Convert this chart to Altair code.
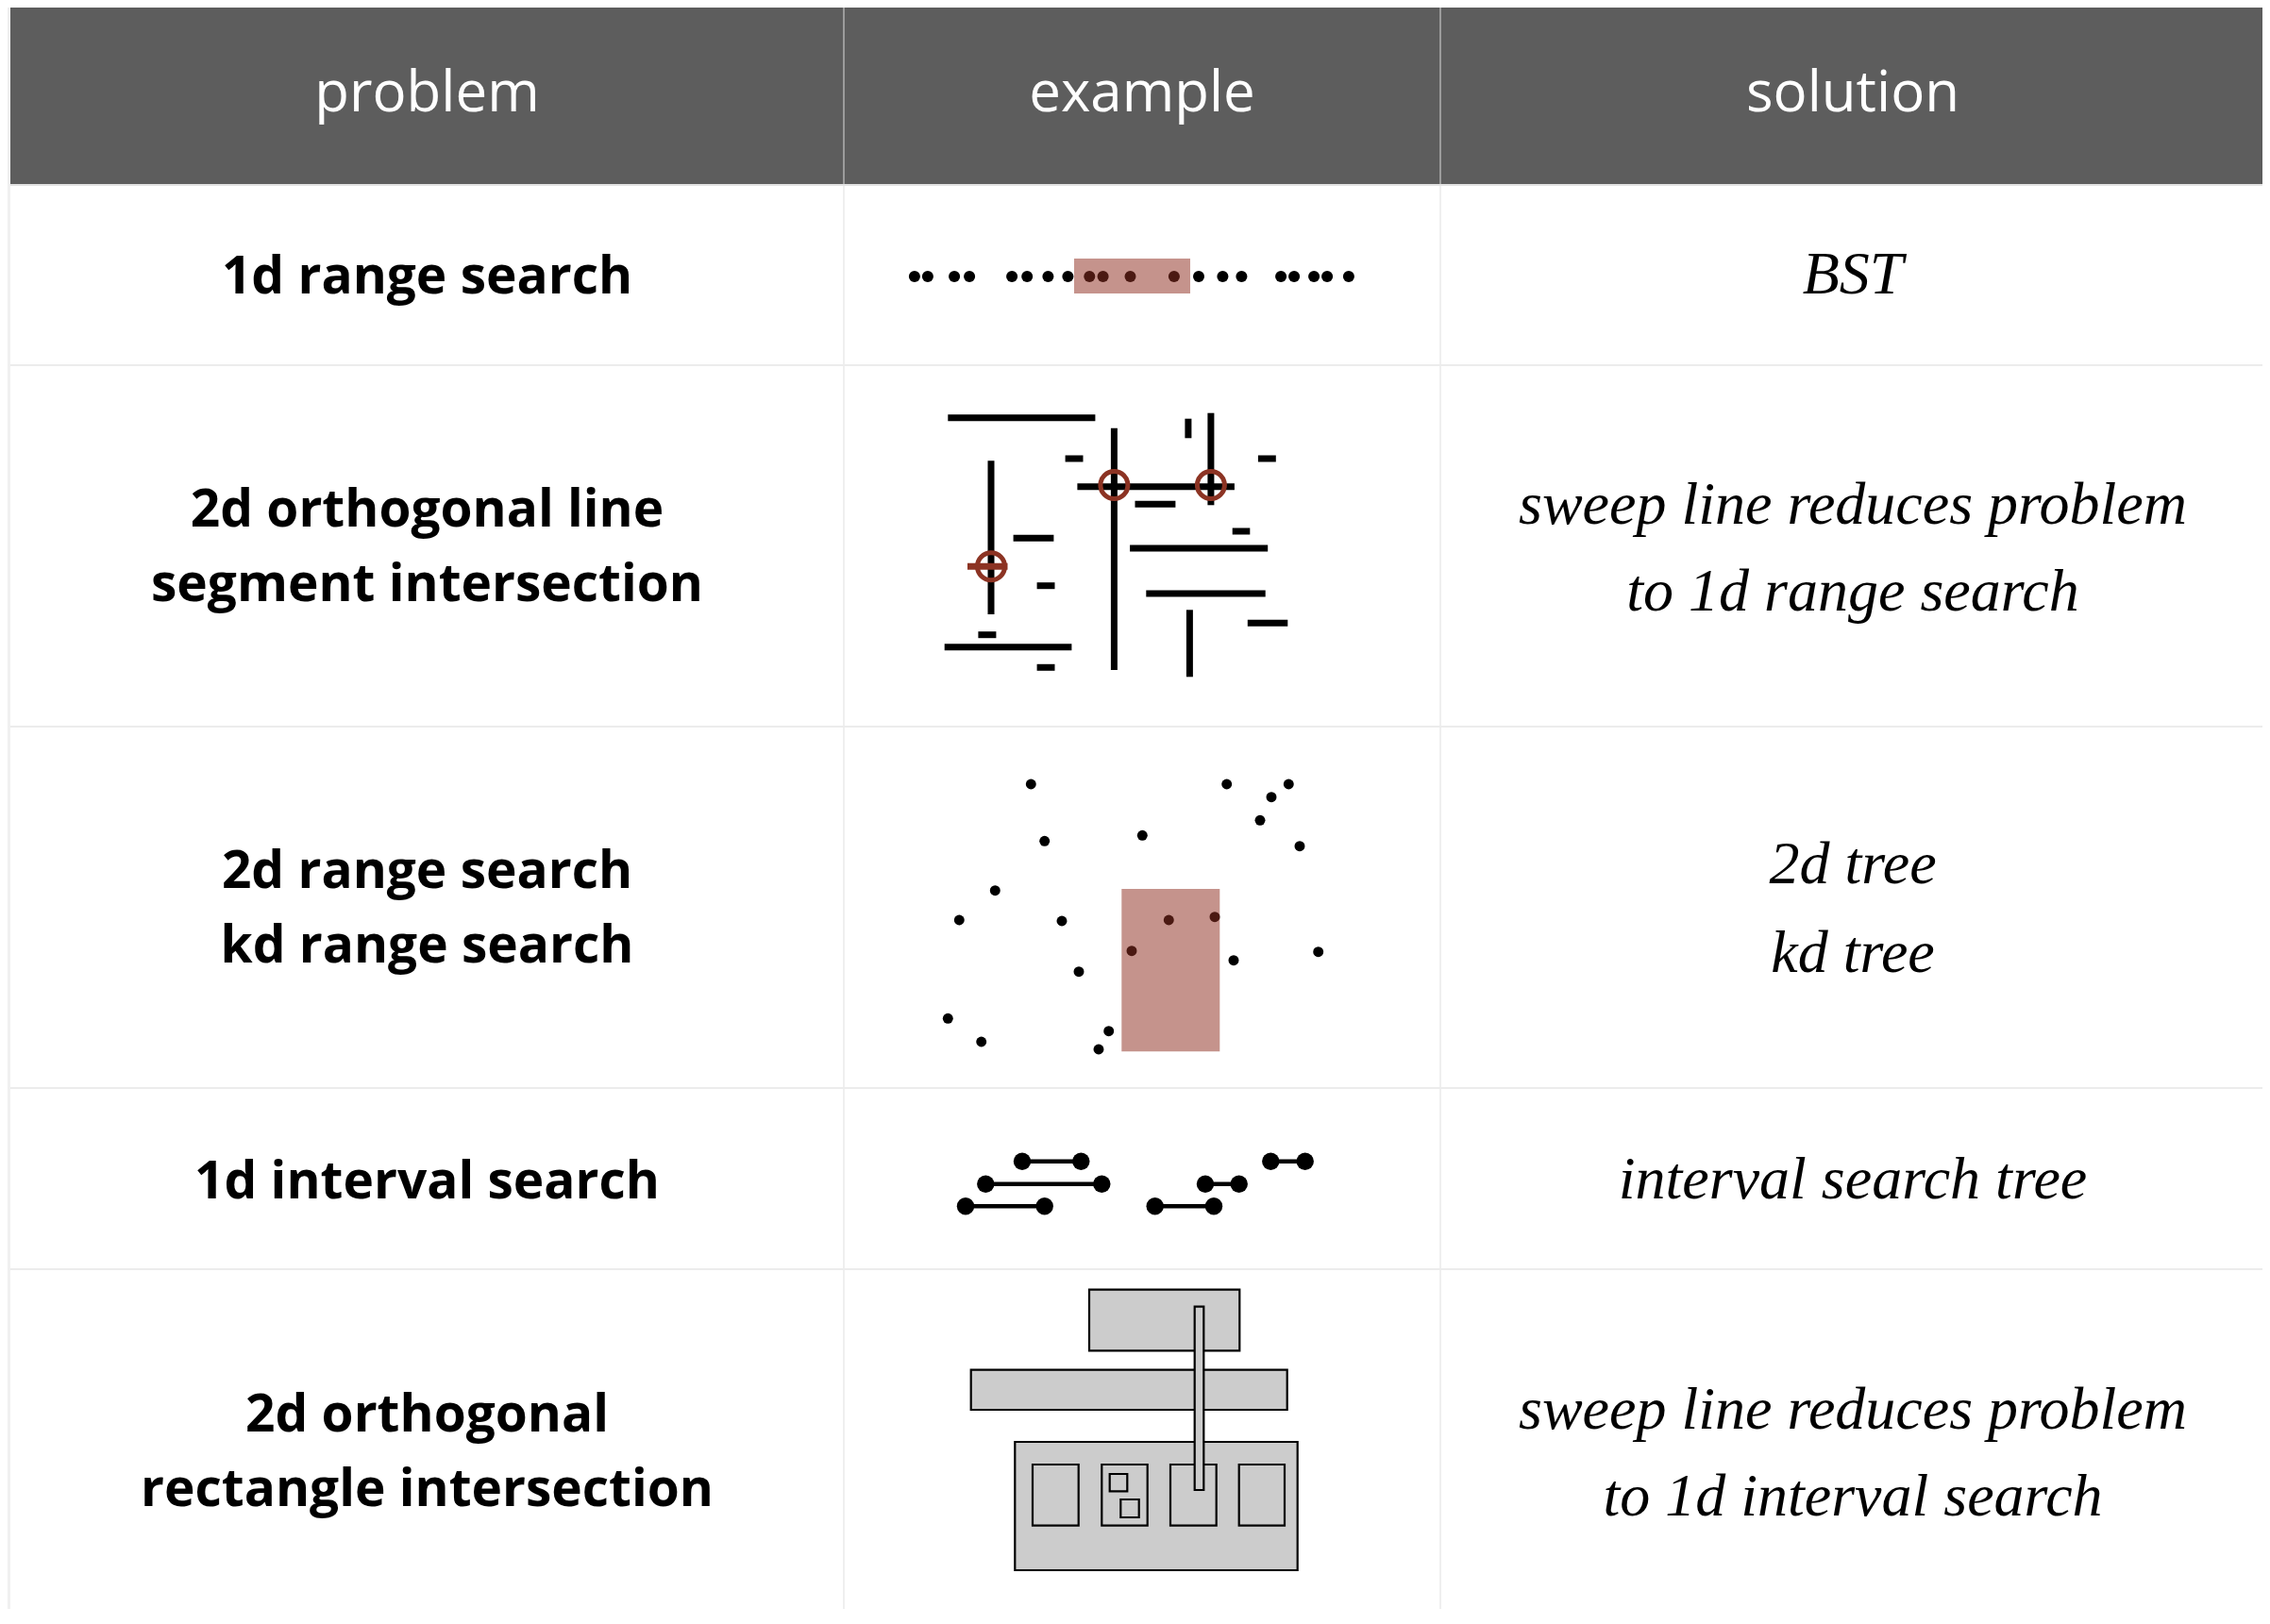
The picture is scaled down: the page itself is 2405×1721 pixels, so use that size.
import altair as alt
import pandas as pd

# ---------------- table layout (image pixel coordinates) ----------------
col_edges = [11, 894, 1526, 2400]          # left, divider1, divider2, right
row_edges = [8, 196, 387, 770, 1153, 1345, 1721]
header_labels = ["problem", "example", "solution"]

problem_lines = [
    ["1d range search"],
    ["2d orthogonal line", "segment intersection"],
    ["2d range search", "kd range search"],
    ["1d interval search"],
    ["2d orthogonal", "rectangle intersection"],
]
problem_baselines = [[311], [558, 637], [941, 1020], [1270], [1517, 1596]]

solution_lines = [
    ["BST"],
    ["sweep line reduces problem", "to 1d range search"],
    ["2d tree", "kd tree"],
    ["interval search tree"],
    ["sweep line reduces problem", "to 1d interval search"],
]
solution_baselines = [[311], [555, 647], [936, 1030], [1270], [1514, 1606]]

# ---------------- row 1: 1d range search ----------------
r1_x = [968.9, 982.9, 1011.1, 1027.1, 1072.1, 1088.2, 1110.4, 1131.4, 1154.3, 1168.6,
        1197.5, 1243.9, 1270.0, 1295.4, 1315.4, 1357.1, 1371.1, 1392.1, 1406.1, 1428.9]
r1_y = [293] * len(r1_x)
r1_range = [1138, 1261, 274, 311]  # x1, x2, y1, y2

# ---------------- row 2: orthogonal segments ----------------
h_x1 = [1004.3, 1128.6, 1332.9, 1141.4, 1202.5, 1305.7, 1073.6, 1197.1, 1098.6, 1214.3, 1321.8, 1036.4, 1000.7, 1098.6]
h_x2 = [1160.4, 1147.5, 1351.8, 1307.9, 1245.4, 1324.3, 1116.4, 1343.2, 1117.5, 1340.7, 1364.3, 1055.4, 1135.4, 1117.5]
h_y = [442.7, 486, 486, 515.7, 534.3, 563, 570.3, 581, 620.7, 629, 660.3, 672.7, 685.7, 707.3]
v_x = [1050, 1180.4, 1258.9, 1282.9, 1260.4]
v_y1 = [488.3, 453.7, 443.7, 437.7, 646.3]
v_y2 = [651, 710, 464.3, 535.3, 717.3]
red_seg = [1025, 1067.5, 600.3]
hit_x = [1180.4, 1282.9, 1050]
hit_y = [514, 514, 600.3]

# ---------------- row 3: 2d points ----------------
r3_x = [1092.3, 1299.7, 1365.3, 1347, 1335, 1106.7, 1210.3, 1377, 1054.3, 1016.3, 1125,
        1238.3, 1287, 1199, 1307, 1396.7, 1143, 1004.3, 1039.7, 1174.7, 1164]
r3_y = [831, 831, 831, 844.7, 869.3, 891.3, 885.3, 896.7, 943.7, 975, 976,
        975, 971.7, 1007.7, 1017.7, 1008.7, 1029.7, 1079.3, 1104, 1092.7, 1112]
r3_range = [1188.3, 1292.3, 942, 1114.3]

# ---------------- row 4: intervals ----------------
iv_x1 = [1083, 1044.3, 1023, 1346.3, 1277, 1223.7]
iv_x2 = [1145.3, 1167.3, 1106.7, 1382.7, 1312.7, 1286]
iv_y = [1230.7, 1254.7, 1278.3, 1230.7, 1254.7, 1278.3]

# ---------------- row 5: rectangles ----------------
rc_x1 = [1154, 1028.7, 1075.3, 1094, 1167.3, 1175.7, 1187.3, 1240, 1312.7, 1265.7]
rc_x2 = [1313.3, 1363.7, 1374.7, 1142.7, 1215.7, 1194.3, 1206.7, 1288.7, 1361, 1275.3]
rc_y1 = [1366.7, 1451.7, 1528, 1552, 1552, 1562, 1589, 1552, 1552, 1384.7]
rc_y2 = [1431.3, 1494, 1664, 1616.7, 1616.7, 1580.3, 1608, 1616.7, 1616.7, 1579]

# ---------------- colours ----------------
HEADER = "#5d5d5d"
HILITE = "#8f2f22"
RED = "#8c3323"

# ---------------- scales ----------------
W, H = 2389, 1697
xs = alt.Scale(domain=[8, 8 + W], range=[0, W], nice=False, zero=False)
ys = alt.Scale(domain=[8 + H, 8], nice=False, zero=False)


def X(f):
    return alt.X(f, type="quantitative", scale=xs, axis=None)


def Y(f):
    return alt.Y(f, type="quantitative", scale=ys, axis=None)


def rects(df, **kw):
    return alt.Chart(df).mark_rect(**kw).encode(x=X("x1"), x2=alt.X2("x2"), y=Y("y1"), y2=alt.Y2("y2"))


def rules(df, **kw):
    return alt.Chart(df).mark_rule(**kw).encode(x=X("x1"), x2=alt.X2("x2"), y=Y("y1"), y2=alt.Y2("y2"))


layers = []

# table background
layers.append(rects(pd.DataFrame({"x1": [col_edges[0]], "x2": [col_edges[-1]],
                                  "y1": [row_edges[1]], "y2": [row_edges[-1]]}), color="white"))
layers.append(rects(pd.DataFrame({"x1": [col_edges[0]], "x2": [col_edges[-1]],
                                  "y1": [row_edges[0]], "y2": [row_edges[1] - 1]}), color=HEADER))
# header bottom line
layers.append(rules(pd.DataFrame({"x1": [col_edges[0]], "x2": [col_edges[-1]],
                                  "y1": [row_edges[1]], "y2": [row_edges[1]]}),
                    color="#e2e2e2", strokeWidth=2))
# header dividers
layers.append(rules(pd.DataFrame({"x1": col_edges[1:3], "x2": col_edges[1:3],
                                  "y1": [row_edges[0]] * 2, "y2": [row_edges[1] - 1] * 2}),
                    color="#9c9c9c", strokeWidth=2))
# body dividers
layers.append(rules(pd.DataFrame({"x1": col_edges[1:3], "x2": col_edges[1:3],
                                  "y1": [row_edges[1] + 1] * 2, "y2": [row_edges[-1]] * 2}),
                    color="#efefef", strokeWidth=2))
# row separators
layers.append(rules(pd.DataFrame({"x1": [col_edges[0]] * 4, "x2": [col_edges[-1]] * 4,
                                  "y1": row_edges[2:6], "y2": row_edges[2:6]}),
                    color="#ececec", strokeWidth=2))

# row 1
layers.append(alt.Chart(pd.DataFrame({"x": r1_x, "y": r1_y})).mark_circle(
    size=145, color="black", opacity=1).encode(x=X("x"), y=Y("y")))
layers.append(rects(pd.DataFrame({"x1": [r1_range[0]], "x2": [r1_range[1]],
                                  "y1": [r1_range[2]], "y2": [r1_range[3]]}),
                    color=HILITE, opacity=0.52))

# row 2
layers.append(rules(pd.DataFrame({"x1": h_x1, "x2": h_x2, "y1": h_y, "y2": h_y}),
                    color="black", strokeWidth=7, strokeCap="butt"))
layers.append(rules(pd.DataFrame({"x1": v_x, "x2": v_x, "y1": v_y1, "y2": v_y2}),
                    color="black", strokeWidth=7, strokeCap="butt"))
layers.append(rules(pd.DataFrame({"x1": [red_seg[0]], "x2": [red_seg[1]],
                                  "y1": [red_seg[2]], "y2": [red_seg[2]]}),
                    color=RED, strokeWidth=7, strokeCap="butt"))
layers.append(alt.Chart(pd.DataFrame({"x": hit_x, "y": hit_y})).mark_point(
    shape="circle", filled=False, size=840, color=RED, strokeWidth=5, opacity=1
).encode(x=X("x"), y=Y("y")))

# row 3
layers.append(alt.Chart(pd.DataFrame({"x": r3_x, "y": r3_y})).mark_circle(
    size=120, color="black", opacity=1).encode(x=X("x"), y=Y("y")))
layers.append(rects(pd.DataFrame({"x1": [r3_range[0]], "x2": [r3_range[1]],
                                  "y1": [r3_range[2]], "y2": [r3_range[3]]}),
                    color=HILITE, opacity=0.52))

# row 4
layers.append(rules(pd.DataFrame({"x1": iv_x1, "x2": iv_x2, "y1": iv_y, "y2": iv_y}),
                    color="black", strokeWidth=4.5))
layers.append(alt.Chart(pd.DataFrame({"x": iv_x1 + iv_x2, "y": iv_y + iv_y})).mark_circle(
    size=340, color="black", opacity=1).encode(x=X("x"), y=Y("y")))

# row 5
layers.append(rects(pd.DataFrame({"x1": rc_x1, "x2": rc_x2, "y1": rc_y1, "y2": rc_y2}),
                    color="#cccccc", stroke="black", strokeWidth=2.2, opacity=1))

# text
hdr = pd.DataFrame({"x": [(col_edges[i] + col_edges[i + 1]) / 2 for i in range(3)],
                    "y": [118] * 3, "t": header_labels})
layers.append(alt.Chart(hdr).mark_text(
    font="Open Sans", fontSize=60, color="white", baseline="alphabetic", align="center"
).encode(x=X("x"), y=Y("y"), text="t:N"))

px = (col_edges[0] + col_edges[1]) / 2
sx = (col_edges[2] + col_edges[3]) / 2
prob_rows = [(px, b, t) for lines, bs in zip(problem_lines, problem_baselines) for t, b in zip(lines, bs)]
sol_rows = [(sx, b, t) for lines, bs in zip(solution_lines, solution_baselines) for t, b in zip(lines, bs)]

layers.append(alt.Chart(pd.DataFrame(prob_rows, columns=["x", "y", "t"])).mark_text(
    font="Open Sans", fontWeight="bold", fontSize=55, color="black",
    baseline="alphabetic", align="center"
).encode(x=X("x"), y=Y("y"), text="t:N"))
layers.append(alt.Chart(pd.DataFrame(sol_rows, columns=["x", "y", "t"])).mark_text(
    font="Liberation Serif", fontStyle="italic", fontSize=64, color="black",
    baseline="alphabetic", align="center"
).encode(x=X("x"), y=Y("y"), text="t:N"))

chart = alt.layer(*layers).properties(
    width=W, height=H, padding=0, autosize=alt.AutoSizeParams(type="none"),
    background="#f0f0f0"
).configure_view(stroke=None)

chart.save("out.html", embed_options={"renderer": "svg", "actions": False})
